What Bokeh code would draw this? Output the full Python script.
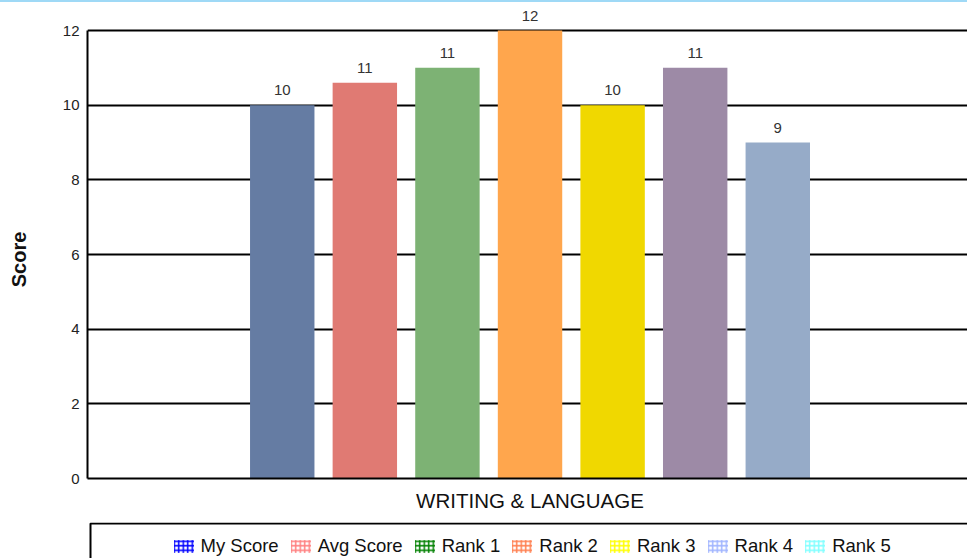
from bokeh.plotting import figure
from bokeh.layouts import column, row
from bokeh.models import (ColumnDataSource, Range1d, FixedTicker, Legend,
                          LegendItem, CDSView, IndexFilter, Spacer, BoxAnnotation)
from bokeh.embed import file_html
from bokeh.resources import INLINE
from bokeh.core.properties import value

# ---------------- data ----------------
category = "WRITING & LANGUAGE"
series = ["My Score", "Avg Score", "Rank 1", "Rank 2", "Rank 3", "Rank 4", "Rank 5"]
scores = [10, 10.6, 11, 12, 10, 11, 9]
bar_colors = ["#657CA3", "#E07A73", "#7DB274", "#FFA64D", "#F0D800", "#9D8AA6", "#96ABC8"]
legend_colors = ["#0000FF", "#FF8080", "#008000", "#FF7F50", "#FFFF00", "#A0B4FF", "#80FFFF"]
y_ticks = [0, 2, 4, 6, 8, 10, 12]
y_title = "Score"

FONT = "Liberation Sans"
W = 967
SW = 36          # width of the strip holding the y-axis title
n = len(series)
xs = list(range(n))
labels = [str(int(round(v))) for v in scores]

# ---------------- thin light-blue strip at the very top ----------------
strip = Spacer(width=W, height=2, styles={"background-color": "#9FD9F6"})

# ---------------- main chart ----------------
src = ColumnDataSource(dict(x=xs, top=scores, color=bar_colors,
                            hatch=legend_colors, label=labels, name=series))
yr = Range1d(0, 12.75)

p = figure(width=W - SW, height=520, output_backend="svg", toolbar_location=None,
           x_range=Range1d(-2.358, 8.297), y_range=yr,
           min_border_left=87 - SW, min_border_top=0, min_border_bottom=44,
           min_border_right=0, outline_line_color=None,
           background_fill_color="white", border_fill_color="white")

p.vbar(x="x", top="top", width=0.78, fill_color="color", line_color=None, source=src)
p.text(x="x", y="top", text="label", source=src, text_align="center",
       text_baseline="bottom", y_offset=-10, text_font=value(FONT),
       text_font_size="15px", text_color="#333333")

# x axis: single category centred under the group
p.xaxis.ticker = FixedTicker(ticks=[(n - 1) / 2])
p.xaxis.major_label_overrides = {(n - 1) / 2: category}
p.xaxis.major_label_text_font = FONT
p.xaxis.major_label_text_font_size = "20.5px"
p.xaxis.major_label_text_color = "#111111"
p.xaxis.major_label_standoff = 10
p.xaxis.major_tick_out = 0
p.xaxis.major_tick_in = 0
p.xaxis.minor_tick_out = 0
p.xaxis.minor_tick_in = 0
p.xaxis.axis_line_color = "black"
p.xaxis.axis_line_width = 2

# y axis (tick labels only; its title is drawn in the strip on the left)
p.yaxis.ticker = FixedTicker(ticks=y_ticks)
p.yaxis.bounds = (y_ticks[0], y_ticks[-1])
p.yaxis.major_label_text_font = FONT
p.yaxis.major_label_text_font_size = "15px"
p.yaxis.major_label_text_color = "#222222"
p.yaxis.major_label_standoff = 8
p.yaxis.major_tick_out = 0
p.yaxis.major_tick_in = 0
p.yaxis.minor_tick_out = 0
p.yaxis.minor_tick_in = 0
p.yaxis.axis_line_color = "black"
p.yaxis.axis_line_width = 2

p.xgrid.visible = False
p.ygrid.ticker = FixedTicker(ticks=y_ticks)
p.ygrid.grid_line_color = "black"
p.ygrid.grid_line_width = 2

# ---------------- y-axis title strip ----------------
sfig = figure(width=SW, height=520, output_backend="svg", toolbar_location=None,
              x_range=Range1d(0, 1), y_range=yr,
              x_axis_location=None, y_axis_location=None,
              min_border_left=0, min_border_right=0, min_border_top=0,
              min_border_bottom=44, outline_line_color=None,
              background_fill_color="white", border_fill_color="white")
sfig.grid.visible = False
sfig.text(x=[0.5], y=[(y_ticks[0] + y_ticks[-1]) / 2], text=[y_title],
          angle=1.5707963, text_align="center", text_baseline="middle",
          y_offset=5, text_font=value(FONT), text_font_style="bold",
          text_font_size="20px", text_color="#111111")

# ---------------- legend box ----------------
lg = figure(width=W, height=36, output_backend="svg", toolbar_location=None,
            x_range=Range1d(0, W - 87), y_range=Range1d(0, 36),
            x_axis_location=None, y_axis_location=None,
            min_border_left=87, min_border_top=0, min_border_bottom=0,
            min_border_right=0, outline_line_color=None,
            background_fill_color="white", border_fill_color="white")
lg.grid.visible = False
lg.add_layout(BoxAnnotation(left=3, right=W, top=35, bottom=-10, fill_alpha=0,
                            line_color="black", line_width=2, line_alpha=1))

items = []
for i, name in enumerate(series):
    r = lg.vbar(x="x", top="top", width=0.5, source=src,
                view=CDSView(filter=IndexFilter([i])),
                fill_color="white", fill_alpha=0, line_alpha=0,
                hatch_pattern="+", hatch_color="hatch", hatch_scale=4.5,
                hatch_weight=1.5, visible=False)
    items.append(LegendItem(label=name, renderers=[r], index=i))

legend = Legend(items=items, orientation="horizontal", location=(83.5, 1),
                glyph_width=25, glyph_height=16, label_standoff=5, spacing=9,
                padding=0, margin=0, border_line_color=None,
                background_fill_alpha=0, label_text_font=FONT,
                label_text_font_size="18.5px", label_height=20,
                label_text_color="#111111", click_policy="none")
lg.add_layout(legend)

layout = column(strip, row(sfig, p, spacing=0), lg, spacing=0)
open("out.html", "w").write(file_html(layout, INLINE))
